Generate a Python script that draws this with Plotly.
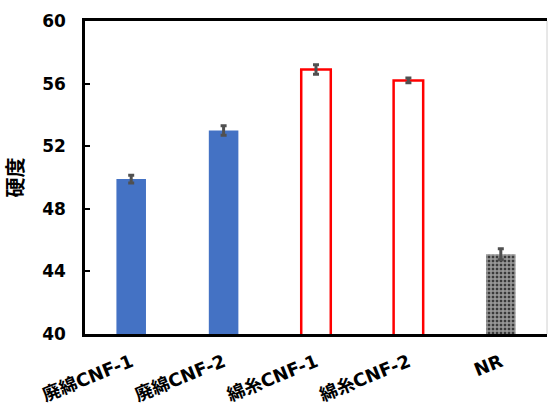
import plotly.graph_objects as go

# Hardness of each sample with standard deviation
categories = ["廃綿CNF-1", "廃綿CNF-2", "綿糸CNF-1", "綿糸CNF-2", "NR"]
hardness = [49.9, 53.0, 56.9, 56.2, 45.1]
hardness_err = [0.25, 0.3, 0.3, 0.15, 0.35]
y_ticks = [40, 44, 48, 52, 56, 60]

fill_colors = ["#4472C4", "#4472C4", "white", "white", "#3a3a3a"]
edge_colors = ["#4472C4", "#4472C4", "#FF0000", "#FF0000", "#3a3a3a"]
edge_widths = [0, 0, 2.5, 2.5, 0]
patterns = ["", "", "", "", "+"]

font_family = "DejaVu Sans, Noto Sans CJK JP, sans-serif"

fig = go.Figure(
    go.Bar(
        x=categories,
        y=hardness,
        width=0.32,
        marker=dict(
            color=fill_colors,
            line=dict(color=edge_colors, width=edge_widths),
            pattern=dict(shape=patterns, fgcolor="#3a3a3a", bgcolor="#d0d0d0",
                         size=4, solidity=0.6, fillmode="overlay"),
        ),
        error_y=dict(type="data", array=hardness_err, color="#505050",
                     thickness=3, width=3),
    )
)

fig.update_layout(
    width=548, height=414,
    margin=dict(l=85, r=1, t=21, b=80),
    plot_bgcolor="white", paper_bgcolor="white",
    showlegend=False,
    font=dict(family=font_family, size=17, color="black"),
)

fig.update_yaxes(
    range=[40, 60], tickvals=y_ticks, ticktext=[str(v) for v in y_ticks],
    ticks="inside", ticklen=5, tickwidth=2, tickcolor="black",
    showline=True, linewidth=2.5, linecolor="black",
    showgrid=False, zeroline=False,
    ticklabelstandoff=13,
    tickfont=dict(family=font_family, size=17, weight="bold"),
    title=dict(text="硬度", font=dict(family="Noto Sans CJK JP", size=20, weight="bold"),
               standoff=20),
)
fig.update_xaxes(
    showline=True, linewidth=2.5, linecolor="black", mirror=True,
    ticks="", showgrid=False, tickangle=-22, ticklabelstandoff=8,
    automargin=False,
    tickfont=dict(family=font_family, size=18, weight="bold"),
)

# light right-hand border of the plot area
fig.add_shape(type="line", xref="paper", yref="paper", x0=1, x1=1, y0=0, y1=1,
              line=dict(color="#d0d0d0", width=1))

fig.write_html("out.html")
